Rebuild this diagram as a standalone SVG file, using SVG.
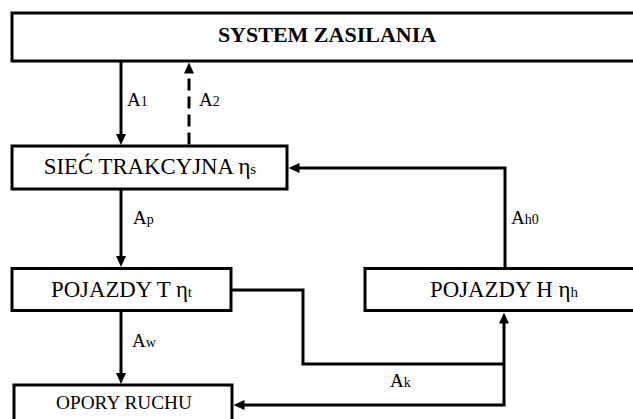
<svg xmlns="http://www.w3.org/2000/svg" width="633" height="419" viewBox="0 0 633 419">
<style>
.box{fill:#fff;stroke:#000;stroke-width:3}
.t{font-family:"Liberation Serif","Times New Roman",serif;fill:#000;text-anchor:middle}
.nt{font-size:22.8px}
.lb{font-family:"Liberation Serif","Times New Roman",serif;fill:#000;font-size:19px}
.sub{font-size:14px}
.sb{font-size:15px}
.c{fill:none;stroke:#000;stroke-width:3}
.d{stroke-dasharray:12 6}
</style>
<defs>
<marker id="ah" viewBox="0 0 11 10" markerWidth="11" markerHeight="10" markerUnits="userSpaceOnUse" refX="5" refY="5" orient="auto">
<path d="M0,0 L11,5 L0,10 z" fill="#000"/>
</marker>
</defs>
<rect width="633" height="419" fill="#fff"/>
<g id="connectors">
<path class="c" d="M121,61 V139" marker-end="url(#ah)"/>
<path class="c d" d="M189,144.5 V68.5" marker-end="url(#ah)"/>
<path class="c" d="M121,189 V261" marker-end="url(#ah)"/>
<path class="c" d="M121,311 V378" marker-end="url(#ah)"/>
<path class="c" d="M505,269 V168 H294.5" marker-end="url(#ah)"/>
<path class="c" d="M231,290 H303 V364 H504"/>
<path class="c" d="M504,405 V318.5" marker-end="url(#ah)"/>
<path class="c" d="M505.5,405 H239.5" marker-end="url(#ah)"/>
<text class="lb" x="127" y="106">A<tspan class="sub">1</tspan></text>
<text class="lb" x="199" y="106">A<tspan class="sub">2</tspan></text>
<text class="lb" x="133" y="224">A<tspan class="sub">p</tspan></text>
<text class="lb" x="511" y="224">A<tspan class="sub">h0</tspan></text>
<text class="lb" x="132" y="347">A<tspan class="sub">w</tspan></text>
<text class="lb" x="390" y="387">A<tspan class="sub">k</tspan></text>
</g>
<g id="system">
<rect class="box" x="12" y="13" width="630" height="48"/>
<text class="t" x="327" y="42" font-size="22" font-weight="bold">SYSTEM ZASILANIA</text>
</g>
<g id="siec">
<rect class="box" x="12" y="146" width="275" height="43"/>
<text class="t nt" x="150" y="174">SIEĆ TRAKCYJNA η<tspan class="sb">s</tspan></text>
</g>
<g id="pojazdyT">
<rect class="box" x="12" y="268.5" width="219" height="42"/>
<text class="t nt" x="121.5" y="297">POJAZDY T η<tspan class="sb">t</tspan></text>
</g>
<g id="pojazdyH">
<rect class="box" x="365" y="268.5" width="280" height="42"/>
<text class="t nt" x="504" y="297">POJAZDY H η<tspan class="sb">h</tspan></text>
</g>
<g id="opory">
<rect class="box" x="14" y="385" width="218" height="50"/>
<text class="t" x="124" y="409" font-size="19.3">OPORY RUCHU</text>
</g>
</svg>
